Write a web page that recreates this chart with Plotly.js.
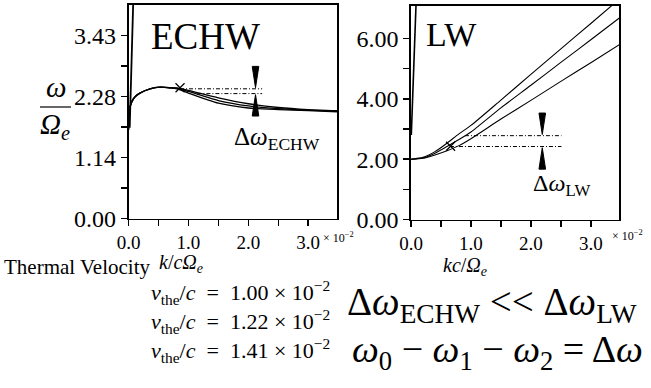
<!DOCTYPE html>
<html>
<head>
<meta charset="utf-8">
<script src="https://cdn.plot.ly/plotly-3.0.1.min.js"></script>
<style>html,body{margin:0;padding:0;background:#fff}#chart{width:651px;height:388px}</style>
</head>
<body>
<div id="chart"></div>
<script>
// ---------- data ----------
// ECHW panel: k/cΩe (×10^-2) and ω/Ωe for three thermal velocities
const echwK    = [0, 0.017, 0.056, 0.11, 0.19, 0.36, 0.53, 0.69, 0.81, 1.0, 1.5, 2.0, 2.5, 3.0, 3.48];
const echwV100 = [1.66, 2.04, 2.19, 2.28, 2.35, 2.43, 2.46, 2.45, 2.43, 2.35, 2.16, 2.07, 2.04, 2.02, 2.00];
const echwV122 = [1.66, 2.04, 2.19, 2.28, 2.35, 2.43, 2.46, 2.45, 2.44, 2.38, 2.21, 2.11, 2.06, 2.03, 2.01];
const echwV141 = [1.66, 2.04, 2.19, 2.28, 2.35, 2.43, 2.46, 2.45, 2.445, 2.40, 2.26, 2.15, 2.08, 2.04, 2.02];
const echwLightK = [0.02, 0.08];
const echwLightW = [1.70, 4.10];
const echwCrossK = [0.86];
const echwCrossW = [2.45];
const echwDelta = [2.43, 2.34];      // upper / lower frequency of the gap
const echwDeltaStart = [0.86, 1.15]; // where the dashed lines start
const echwDeltaEnd = 2.23;
const echwArrowK = 2.12;

// LW panel: kc/Ωe (×10^-2) and ω/Ωe
const lwK    = [0, 0.2, 0.4, 0.6, 0.8, 1.0, 1.5, 2.0, 2.5, 3.0, 3.5];
const lwV100 = [2.0, 2.03, 2.14, 2.28, 2.45, 2.68, 3.33, 3.95, 4.58, 5.20, 5.83];
const lwV122 = [2.0, 2.04, 2.20, 2.42, 2.65, 2.90, 3.70, 4.45, 5.21, 5.96, 6.72];
const lwV141 = [2.0, 2.06, 2.25, 2.53, 2.84, 3.12, 3.96, 4.81, 5.66, 6.50, 7.35];
const lwLightK = [0.005, 0.085];
const lwLightW = [2.80, 7.20];
const lwCrossK = [0.66];
const lwCrossW = [2.43];
const lwDelta = [2.78, 2.42];
const lwDeltaStart = [0.9, 0.65];
const lwDeltaEnd = 2.51;
const lwArrowK = 2.19;

// tick labels
const echwXTickVals = [0, 0.5, 1, 1.5, 2, 2.5, 3];
const echwXTickText = ['0.0', '', '1.0', '', '2.0', '', '3.0'];
const echwYTickVals = [0, 4/7, 8/7, 12/7, 16/7, 20/7, 24/7];
const echwYTickText = ['0.00', '', '1.14', '', '2.28', '', '3.43'];
const lwXTickVals = [0, 0.5, 1, 1.5, 2, 2.5, 3];
const lwXTickText = ['0.0', '', '1.0', '', '2.0', '', '3.0'];
const lwYTickVals = [0, 1, 2, 3, 4, 5, 6];
const lwYTickText = ['0.00', '', '2.00', '', '4.00', '', '6.00'];

const velocities = ['1.00', '1.22', '1.41'];

// ---------- build ----------
const W = 651, H = 388;
const SERIF = 'Liberation Serif';

function line(x, y, xa, ya, w, dash) {
  return {x: x, y: y, xaxis: xa, yaxis: ya, mode: 'lines', type: 'scatter',
          line: {color: '#000', width: w, dash: dash || 'solid', shape: 'spline', smoothing: 0.6},
          hoverinfo: 'skip', showlegend: false};
}
function tri(k, base, apex, halfw, xa, ya) {
  return {x: [k - halfw, k + halfw, k, k - halfw], y: [base, base, apex, base], xaxis: xa, yaxis: ya,
          mode: 'lines', fill: 'toself', fillcolor: '#000', line: {color: '#000', width: 1},
          type: 'scatter', hoverinfo: 'skip', showlegend: false};
}
function cross(x, y, xa, ya) {
  return {x: x, y: y, xaxis: xa, yaxis: ya, mode: 'markers', type: 'scatter',
          marker: {symbol: 'x-thin-open', size: 9, color: '#000', line: {width: 1.2, color: '#000'}},
          hoverinfo: 'skip', showlegend: false};
}

const DASH = '4px,2px,1px,2px';
const traces = [
  line(echwK, echwV100, 'x', 'y', 1.3),
  line(echwK, echwV122, 'x', 'y', 1.3),
  line(echwK, echwV141, 'x', 'y', 1.3),
  line(echwLightK, echwLightW, 'x', 'y', 1.8),
  cross(echwCrossK, echwCrossW, 'x', 'y'),
  line([echwDeltaStart[0], echwDeltaEnd], [echwDelta[0], echwDelta[0]], 'x', 'y', 1, DASH),
  line([echwDeltaStart[1], echwDeltaEnd], [echwDelta[1], echwDelta[1]], 'x', 'y', 1, DASH),
  tri(echwArrowK, echwDelta[0] + 0.42, echwDelta[0] + 0.02, 0.055, 'x', 'y'),
  tri(echwArrowK, echwDelta[1] - 0.42, echwDelta[1] - 0.02, 0.055, 'x', 'y'),

  line(lwK, lwV100, 'x2', 'y2', 1.1),
  line(lwK, lwV122, 'x2', 'y2', 1.1),
  line(lwK, lwV141, 'x2', 'y2', 1.1),
  line(lwLightK, lwLightW, 'x2', 'y2', 1.6),
  cross(lwCrossK, lwCrossW, 'x2', 'y2'),
  line([lwDeltaStart[0], lwDeltaEnd], [lwDelta[0], lwDelta[0]], 'x2', 'y2', 1, DASH),
  line([lwDeltaStart[1], lwDeltaEnd], [lwDelta[1], lwDelta[1]], 'x2', 'y2', 1, DASH),
  tri(lwArrowK, lwDelta[0] + 0.75, lwDelta[0] + 0.04, 0.055, 'x2', 'y2'),
  tri(lwArrowK, lwDelta[1] - 0.75, lwDelta[1] - 0.04, 0.055, 'x2', 'y2')
];

function axis(domain, range, vals, text, fsize, anchor) {
  return {domain: domain, range: range, tickmode: 'array', tickvals: vals, ticktext: text,
          ticks: 'outside', ticklen: 6, tickwidth: 1.5, tickcolor: '#000',
          showline: true, linecolor: '#000', linewidth: 1.6, mirror: true,
          showgrid: false, zeroline: false, fixedrange: true, anchor: anchor,
          tickfont: {family: SERIF, size: fsize, color: '#000'}};
}

function ann(text, x, y, size) {
  return {text: text, x: x / W, y: 1 - y / H, xref: 'paper', yref: 'paper',
    xanchor: 'center', yanchor: 'middle', showarrow: false,
    font: {family: SERIF, size: size, color: '#000'}};
}

const annotations = [
  ann('ECHW', 205, 36, 37),
  ann('LW', 452, 34, 34),
  ann('Δ<i>ω</i><sub>ECHW</sub>', 277, 138, 25),
  ann('Δ<i>ω</i><sub>LW</sub>', 561, 185, 24),
  ann('<i>ω</i>', 56, 87, 29),
  ann('<i>Ω</i><sub><i>e</i></sub>', 55, 126, 29),
  ann('<i>k</i>/<i>c</i><i>Ω</i><sub><i>e</i></sub>', 181, 263, 20),
  ann('<i>kc</i>/<i>Ω</i><sub><i>e</i></sub>', 465, 266, 20),
  ann('Thermal Velocity', 77, 267, 21),
  ann('× 10<sup>−2</sup>', 338, 237, 12),
  ann('× 10<sup>−2</sup>', 627, 236, 12),
  ann('Δ<i>ω</i><sub>ECHW</sub> << Δ<i>ω</i><sub>LW</sub>', 492, 304, 39),
  ann('<i>ω</i><sub>0</sub> − <i>ω</i><sub>1</sub> − <i>ω</i><sub>2</sub> = Δ<i>ω</i>', 497, 352, 38)
];
velocities.forEach(function (v, i) {
  annotations.push(ann('<i>v</i><sub>the</sub>/<i>c</i>&nbsp; = &nbsp;' + v + ' × 10<sup>−2</sup>', 240, 292 + i * 29, 22));
});

const layout = {
  width: W, height: H, margin: {l: 0, r: 0, t: 0, b: 0},
  paper_bgcolor: '#fff', plot_bgcolor: '#fff', showlegend: false,
  font: {family: SERIF, color: '#000'},
  xaxis: axis([128.5 / W, 337 / W], [0, 3.48], echwXTickVals, echwXTickText, 19, 'y'),
  yaxis: axis([(H - 218.5) / H, (H - 5) / H], [0, 4.0], echwYTickVals, echwYTickText, 24, 'x'),
  xaxis2: axis([411 / W, 619 / W], [0, 3.47], lwXTickVals, lwXTickText, 19, 'y2'),
  yaxis2: axis([(H - 219.5) / H, (H - 6) / H], [0, 7.08], lwYTickVals, lwYTickText, 24, 'x2'),
  annotations: annotations,
  shapes: [{type: 'line', xref: 'paper', yref: 'paper', x0: 40 / W, x1: 71 / W,
            y0: 1 - 107 / H, y1: 1 - 107 / H, line: {color: '#000', width: 1.2}}]
};

Plotly.newPlot('chart', traces, layout, {staticPlot: true, displayModeBar: false});
</script>
</body>
</html>
